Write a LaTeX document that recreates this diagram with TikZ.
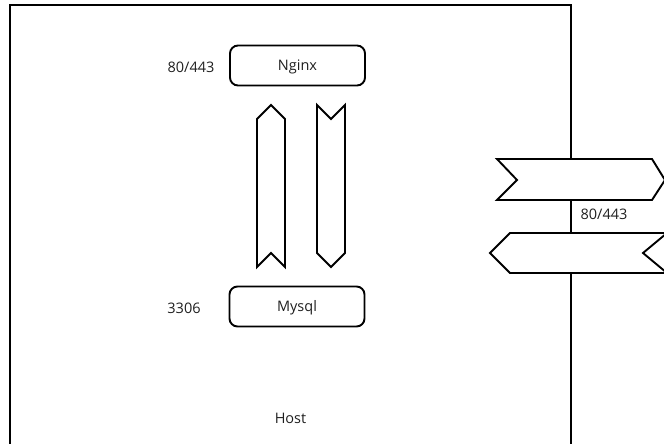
\documentclass[tikz,border=0pt]{standalone}
\usepackage{fontspec}
\setmainfont{Open Sans}
\begin{document}
\begin{tikzpicture}[x=1pt,y=-1pt,
  shapeline/.style={draw=black,line width=1.9pt,line join=miter},
  txt/.style={font=\fontsize{14.5}{17}\selectfont,text=black!88,text height=10.4pt,text depth=0pt},
  svc/.style={txt,draw=black,line width=1.9pt,rounded corners=8pt,minimum width=135pt,minimum height=40pt,inner sep=0pt},
  lbl/.style={txt,inner sep=0pt}]
\useasboundingbox (0,0) rectangle (664,444);
\clip (0,0) rectangle (664,444);
% host
\draw[line width=2pt] (10,460) -- (10,5) -- (571,5) -- (571,460);
\node[lbl] (host) at (290.5,418) {Host};
% services
\node[svc] (nginx) at (297.5,65.5) {Nginx};
\node[svc] (mysql) at (297,306.5) {Mysql};
\node[lbl] (pn) at (191,67) {80/443};
\node[lbl] (pm) at (184,308) {3306};
% vertical flow arrows
\draw[shapeline] (271,105) -- (285,119) -- (285,267) -- (271,253) -- (257,267) -- (257,119) -- cycle;
\draw[shapeline] (317,105) -- (331,119) -- (345,105) -- (345,253) -- (331,267) -- (317,253) -- cycle;
% external flow arrows
\draw[shapeline,fill=white] (497,159) -- (652,159) -- (665,180) -- (652,200) -- (497,200) -- (517,180) -- cycle;
\draw[shapeline,fill=white] (490,253) -- (510,233) -- (667,233) -- (643,253) -- (667,273) -- (510,273) -- cycle;
\node[lbl] (pe) at (604,214) {80/443};
\end{tikzpicture}
\end{document}
